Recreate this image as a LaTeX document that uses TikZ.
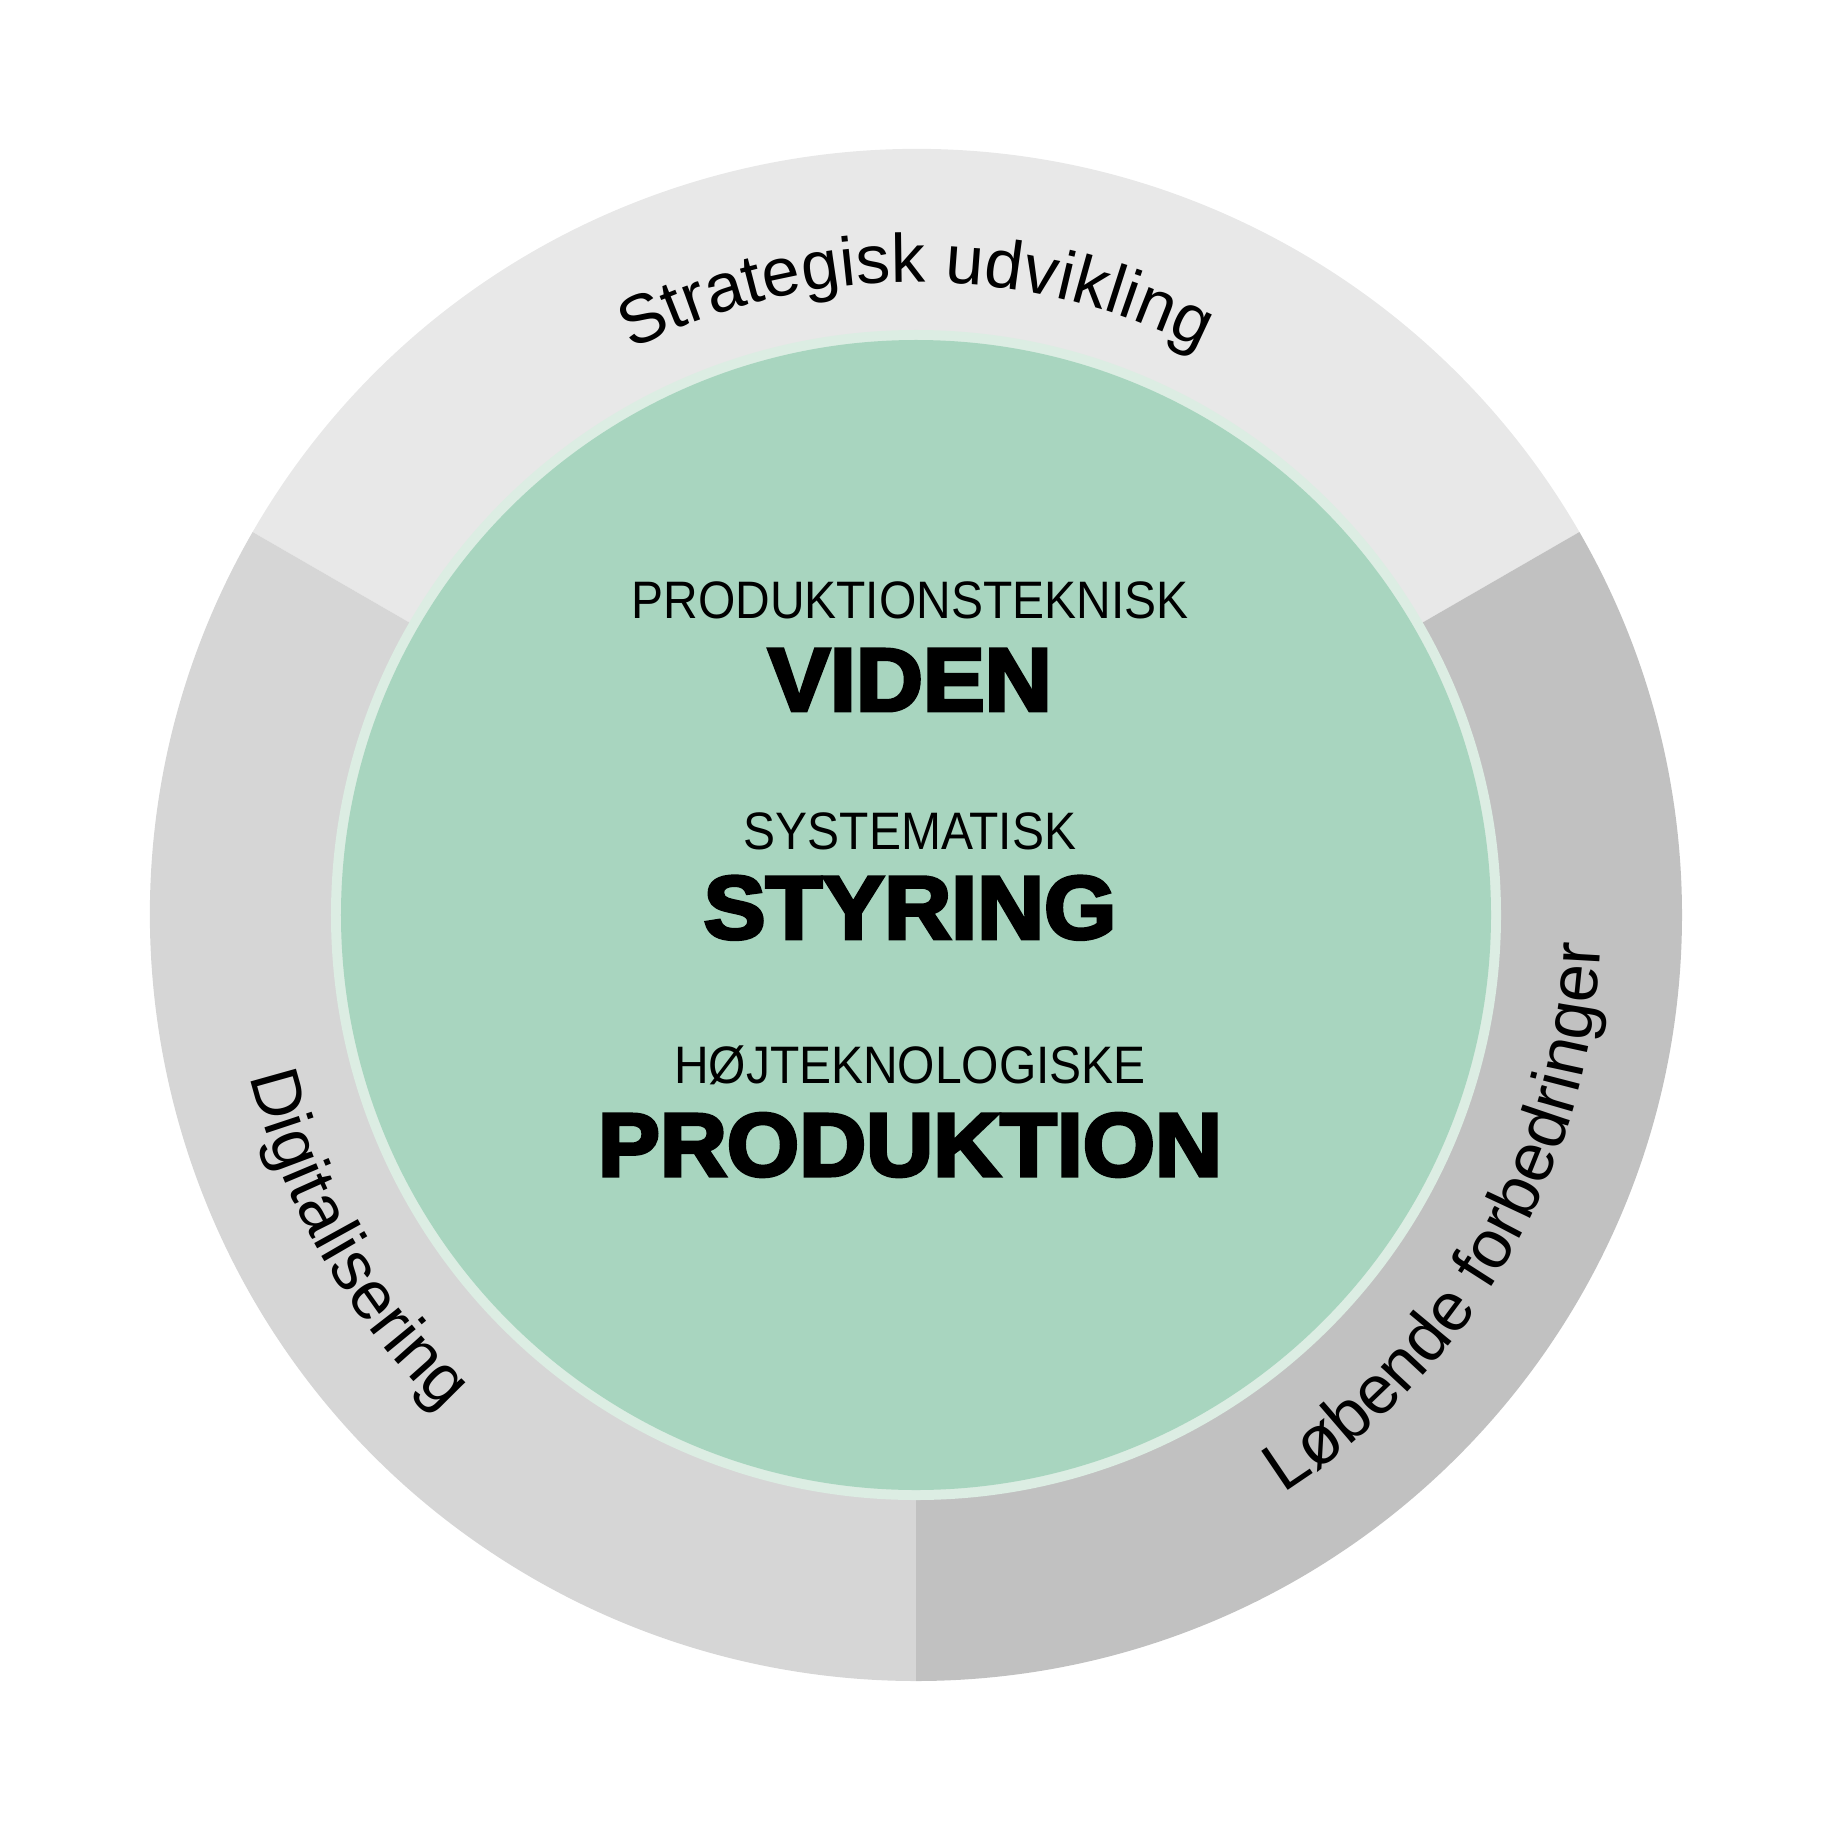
\documentclass[tikz,border=0pt]{standalone}
\usepackage{fontspec}
\setmainfont{Liberation Sans}
\newfontfamily\arcfont{Liberation Sans}
\newfontfamily\capfont[FakeStretch=0.91]{Liberation Sans}
\newfontfamily\heavyfont[FakeStretch=1.04,FakeBold=4]{Liberation Sans Bold}
\usepackage{tikz}
\usetikzlibrary{decorations.text}
\definecolor{topgray}{HTML}{E8E8E8}
\definecolor{leftgray}{HTML}{D6D6D6}
\definecolor{rightgray}{HTML}{C1C1C1}
\definecolor{ringgreen}{HTML}{DCEDE3}
\definecolor{coregreen}{HTML}{A8D5BF}

\begin{document}
\begin{tikzpicture}[
  small/.style={inner sep=0pt,anchor=base,font=\capfont\fontsize{15}{16}\selectfont},
  big/.style={inner sep=0pt,anchor=base,font=\heavyfont\fontsize{25.4}{26}\selectfont},
  arctext/.style={decorate,decoration={text along path,text align=center,text={|\arcfont\fontsize{19.5}{20}\selectfont|#1}}}
]
\useasboundingbox (-9.16,-9.15) rectangle (9.18,9.15);
%outer ring, three parts
\fill[topgray] (0,0) -- (150:7.66) arc[start angle=150,end angle=30,radius=7.66] -- cycle;
\fill[leftgray] (0,0) -- (150:7.66) arc[start angle=150,end angle=270,radius=7.66] -- cycle;
\fill[rightgray] (0,0) -- (270:7.66) arc[start angle=270,end angle=390,radius=7.66] -- cycle;
%green core with light rim
\fill[ringgreen] (0,0) circle (5.85cm);
\fill[coregreen] (0,0) circle (5.75cm);
%texts round the ring
\path[arctext={Strategisk udvikling}] (150:6.33) arc[start angle=150,end angle=30,radius=6.33];
\path[arctext={Digitalisering}] (150:6.85) arc[start angle=150,end angle=270,radius=6.85];
\path[arctext={Løbende forbedringer}] (270:6.85) arc[start angle=270,end angle=390,radius=6.85];
%texts in the core
\node[small] (tek) at (-0.06,2.967) {PRODUKTIONSTEKNISK};
\node[big] (viden) at (-0.06,2.043) {VIDEN};
\node[small] (sys) at (-0.06,0.657) {SYSTEMATISK};
\node[big] (styring) at (-0.06,-0.235) {STYRING};
\node[small] (hoj) at (-0.06,-1.683) {HØJTEKNOLOGISKE};
\node[big] (prod) at (-0.06,-2.607) {PRODUKTION};
\end{tikzpicture}
\end{document}
